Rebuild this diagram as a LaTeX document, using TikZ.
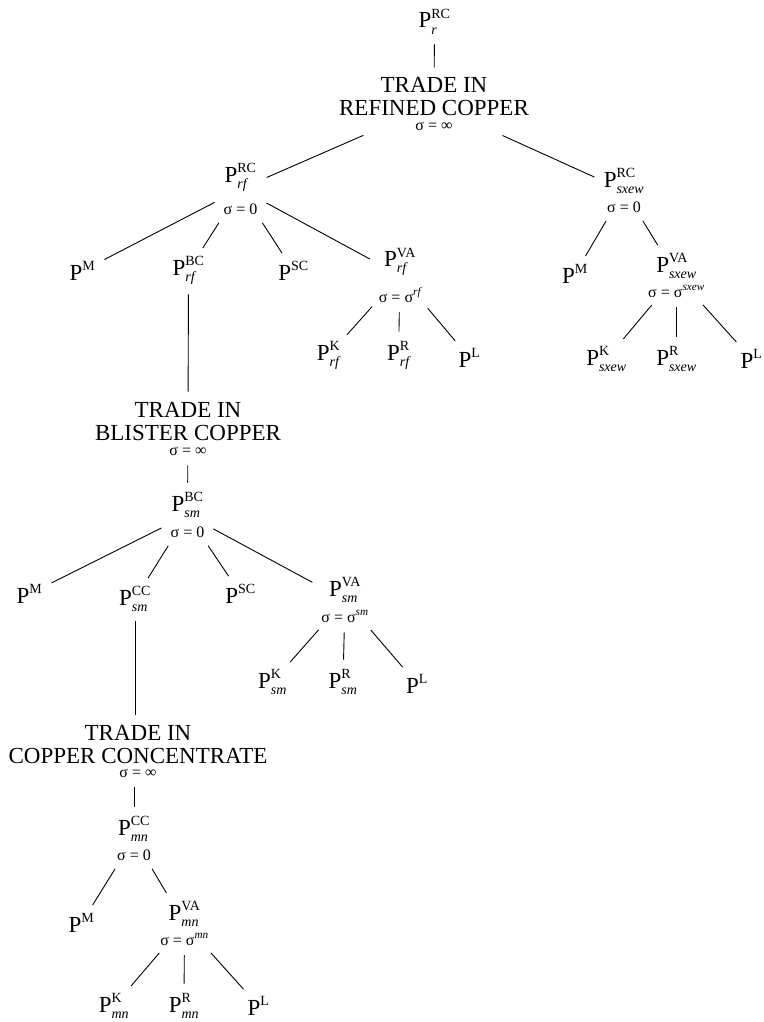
\documentclass[tikz,border=0pt]{standalone}
\usepackage{fontspec}
\usepackage{amsmath}
\setmainfont{Liberation Serif}
\usetikzlibrary{positioning}

\newcommand{\supfont}{\fontsize{14}{14}\selectfont}
\newcommand{\siglab}[1]{{\fontsize{16}{17}\selectfont #1}}
\newcommand{\pvar}[2]{$\text{P}^{\text{\supfont #1}}_{\text{\supfont\itshape #2}}$}
\newcommand{\pup}[1]{$\text{P}^{\text{\supfont #1}}$}

\begin{document}
\begin{tikzpicture}[
      x=1pt, y=-1pt,
      lbl/.style={
        inner sep=0pt,
        anchor=base,
        align=center,
        font=\fontsize{23}{23}\selectfont
      },
      every edge/.style={draw, line width=0.9pt, shorten <=10pt, shorten >=10pt}
    ]
    \useasboundingbox (0,0) rectangle (763,1022);

    % Refined copper
    \node[lbl] (pr) at (434.5,28) {\pvar{RC}{r}};
    \node[lbl] (trc) at (434,131) {TRADE IN\\REFINED COPPER\\[-8pt]\siglab{σ = ∞}};
    \node[lbl] (prf) at (240.5,214) {\pvar{RC}{rf}\\[9pt]\siglab{σ = 0}};
    \node[lbl] (psx) at (624,212) {\pvar{RC}{sxew}\\[2pt]\siglab{σ = 0}};

    \node[lbl] (pm1) at (82.5,280) {\pup{M}};
    \node[lbl] (prfbc) at (188.5,275) {\pvar{BC}{rf}};
    \node[lbl] (psc1) at (293.5,280) {\pup{SC}};
    \node[lbl] (prfva) at (400,302) {\pvar{VA}{rf}\\[11pt]\siglab{σ = σ\textsuperscript{\itshape rf}}};
    \node[lbl] (prfk) at (328.5,360) {\pvar{K}{rf}};
    \node[lbl] (prfr) at (398.5,360) {\pvar{R}{rf}};
    \node[lbl] (pl1) at (469.5,367) {\pup{L}};

    \node[lbl] (psxm) at (575,283) {\pup{M}};
    \node[lbl] (psxva) at (676.5,297) {\pvar{VA}{sxew}\\[2pt]\siglab{σ = σ\textsuperscript{\itshape sxew}}};
    \node[lbl] (psxk) at (606.5,365) {\pvar{K}{sxew}};
    \node[lbl] (psxr) at (676.5,365) {\pvar{R}{sxew}};
    \node[lbl] (psxl) at (751.5,368) {\pup{L}};

    % Blister copper
    \node[lbl] (tbc) at (188,455) {TRADE IN\\BLISTER COPPER\\[-8pt]\siglab{σ = ∞}};
    \node[lbl] (psm) at (187.5,537) {\pvar{BC}{sm}\\[3pt]\siglab{σ = 0}};
    \node[lbl] (pm2) at (29.5,603) {\pup{M}};
    \node[lbl] (psmcc) at (135,605) {\pvar{CC}{sm}};
    \node[lbl] (psc2) at (240.5,603) {\pup{SC}};
    \node[lbl] (psmva) at (345,622) {\pvar{VA}{sm}\\[3pt]\siglab{σ = σ\textsuperscript{\itshape sm}}};
    \node[lbl] (psmk) at (272.5,688) {\pvar{K}{sm}};
    \node[lbl] (psmr) at (343,688) {\pvar{R}{sm}};
    \node[lbl] (pl2) at (417,693) {\pup{L}};

    % Copper concentrate
    \node[lbl] (tcc) at (138,777) {TRADE IN\\COPPER CONCENTRATE\\[-9pt]\siglab{σ = ∞}};
    \node[lbl] (pmn) at (134,860) {\pvar{CC}{mn}\\[2pt]\siglab{σ = 0}};
    \node[lbl] (pm3) at (81.5,932) {\pup{M}};
    \node[lbl] (pmnva) at (184.5,945) {\pvar{VA}{mn}\\[2pt]\siglab{σ = σ\textsuperscript{\itshape mn}}};
    \node[lbl] (pmnk) at (114,1012) {\pvar{K}{mn}};
    \node[lbl] (pmnr) at (184,1012) {\pvar{R}{mn}};
    \node[lbl] (pl3) at (258.5,1015) {\pup{L}};

    % Lines
    \path (pr) edge (trc)
          (trc) edge (prf) edge (psx)
          (prf) edge (pm1) edge (prfbc) edge (psc1) edge (prfva)
          (prfva) edge (prfk) edge (prfr) edge (pl1)
          (psx) edge (psxm) edge (psxva)
          (psxva) edge (psxk) edge (psxr) edge (psxl)
          (prfbc) edge (tbc)
          (tbc) edge (psm)
          (psm) edge (pm2) edge (psmcc) edge (psc2) edge (psmva)
          (psmva) edge (psmk) edge (psmr) edge (pl2)
          (psmcc) edge (psmcc |- tcc.north)
          (pmn |- tcc.south) edge (pmn)
          (pmn) edge (pm3) edge (pmnva)
          (pmnva) edge (pmnk) edge (pmnr) edge (pl3);
  \end{tikzpicture}
\end{document}
